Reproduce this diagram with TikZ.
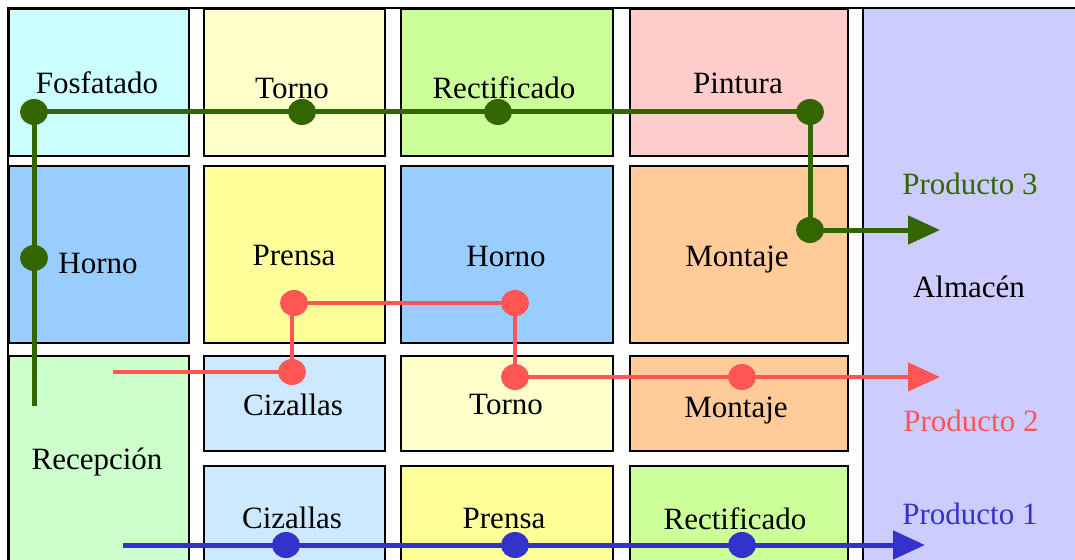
\documentclass[tikz,border=0pt]{standalone}
\usepackage{fontspec}
\setmainfont{Liberation Serif}
\usetikzlibrary{arrows.meta}
\definecolor{cFos}{HTML}{CCFFFF}
\definecolor{cTorno}{HTML}{FFFFCC}
\definecolor{cRect}{HTML}{CCFF99}
\definecolor{cPint}{HTML}{FFCCCC}
\definecolor{cAlm}{HTML}{CCCCFF}
\definecolor{cHorno}{HTML}{99CCFF}
\definecolor{cPrensa}{HTML}{FFFF99}
\definecolor{cMont}{HTML}{FFCC99}
\definecolor{cRecep}{HTML}{CCFFCC}
\definecolor{cCiz}{HTML}{CCE9FF}
\definecolor{pGreen}{HTML}{336600}
\definecolor{pRed}{HTML}{FF5555}
\definecolor{pBlue}{HTML}{3333CC}
\begin{document}
\begin{tikzpicture}[x=1pt,y=-1pt,
  cell/.style={draw=black,line width=1.4pt},
  lbl/.style={anchor=base,inner sep=0pt,font=\fontsize{31}{31}\selectfont},
  flow/.style={line width=5pt},
  tip/.style={-{Triangle[length=32pt,width=28pt]}},
  dotg/.style={fill=pGreen},
  dotr/.style={fill=pRed},
  dotb/.style={fill=pBlue}]
\useasboundingbox (0,0) rectangle (1075,559);
\clip (0,0) rectangle (1075,559);
\fill[white] (0,0) rectangle (1075,559);
% outer frame and warehouse
\draw[cell,fill=cAlm] (863,8) rectangle (1110,620);
\draw[line width=1.5pt] (8,8) rectangle (1110,620);
% row 1
\draw[cell,fill=cFos] (9,9) rectangle (189,156);
\draw[cell,fill=cTorno] (204,9) rectangle (385,156);
\draw[cell,fill=cRect] (401,9) rectangle (613,156);
\draw[cell,fill=cPint] (630,9) rectangle (848,156);
% row 2
\draw[cell,fill=cHorno] (9,166) rectangle (189,343);
\draw[cell,fill=cPrensa] (204,166) rectangle (385,343);
\draw[cell,fill=cHorno] (401,166) rectangle (613,343);
\draw[cell,fill=cMont] (630,166) rectangle (848,343);
% row 3
\draw[cell,fill=cRecep] (9,356) rectangle (189,620);
\draw[cell,fill=cCiz] (204,356) rectangle (385,451);
\draw[cell,fill=cTorno] (401,356) rectangle (613,451);
\draw[cell,fill=cMont] (630,356) rectangle (848,451);
% row 4
\draw[cell,fill=cCiz] (204,466) rectangle (385,620);
\draw[cell,fill=cPrensa] (401,466) rectangle (613,620);
\draw[cell,fill=cRect] (630,466) rectangle (848,620);
% labels
\node[lbl] (tFos) at (97,94) {Fosfatado};
\node[lbl] (tTorno1) at (292,99) {Torno};
\node[lbl] (tRect1) at (504,99) {Rectificado};
\node[lbl] (tPint) at (738,94) {Pintura};
\node[lbl] (tHorno1) at (98,273) {Horno};
\node[lbl] (tPrensa1) at (294,265) {Prensa};
\node[lbl] (tHorno2) at (506,266) {Horno};
\node[lbl] (tMont1) at (737,266) {Montaje};
\node[lbl] (tAlm) at (969,297) {Almacén};
\node[lbl,text=pGreen] (tP3) at (970,194) {Producto 3};
\node[lbl] (tCiz1) at (293,415) {Cizallas};
\node[lbl] (tTorno2) at (506,414) {Torno};
\node[lbl] (tMont2) at (736,417) {Montaje};
\node[lbl,text=pRed] (tP2) at (971,431) {Producto 2};
\node[lbl] (tRecep) at (97,469) {Recepción};
\node[lbl] (tCiz2) at (292,528) {Cizallas};
\node[lbl] (tPrensa2) at (504,528) {Prensa};
\node[lbl] (tRect2) at (735,529) {Rectificado};
\node[lbl,text=pBlue] (tP1) at (970,524) {Producto 1};
% product 3 (green)
\coordinate (gS) at (34,406);
\coordinate (gFos) at (34,112);
\coordinate (gHorno) at (34,258);
\coordinate (gTorno) at (302,112);
\coordinate (gRect) at (498,112);
\coordinate (gPint) at (810,112);
\coordinate (gMont) at (810,230);
\coordinate (gE) at (940,230);
\draw[flow,pGreen,tip] (gS) -- (gFos) -- (gPint) -- (gMont) -- (gE);
\foreach \p in {gFos,gHorno,gTorno,gRect,gPint,gMont}
  \fill[dotg] (\p) ellipse [x radius=14pt, y radius=13pt];
% product 2 (red)
\coordinate (rS) at (113,372);
\coordinate (rCiz) at (292,372);
\coordinate (rPrensa) at (294,303);
\coordinate (rHorno) at (515,303);
\coordinate (rTorno) at (515,377);
\coordinate (rMont) at (742,377);
\coordinate (rE) at (940,377);
\draw[flow,pRed,line width=4.5pt] (rS) -- (rCiz) -- (rCiz |- rPrensa) -- (rHorno) -- (rTorno);
\draw[flow,pRed,line width=4.5pt,tip] (rTorno) -- (rE);
\foreach \p in {rCiz,rPrensa,rHorno,rTorno,rMont}
  \fill[dotr] (\p) ellipse [x radius=14pt, y radius=13pt];
% product 1 (blue)
\coordinate (bS) at (123,545);
\coordinate (bCiz) at (286,545);
\coordinate (bPrensa) at (515,545);
\coordinate (bRect) at (742,545);
\coordinate (bE) at (925,545);
\draw[flow,pBlue,tip] (bS) -- (bE);
\foreach \p in {bCiz,bPrensa,bRect}
  \fill[dotb] (\p) ellipse [x radius=14pt, y radius=13pt];
\end{tikzpicture}
\end{document}
